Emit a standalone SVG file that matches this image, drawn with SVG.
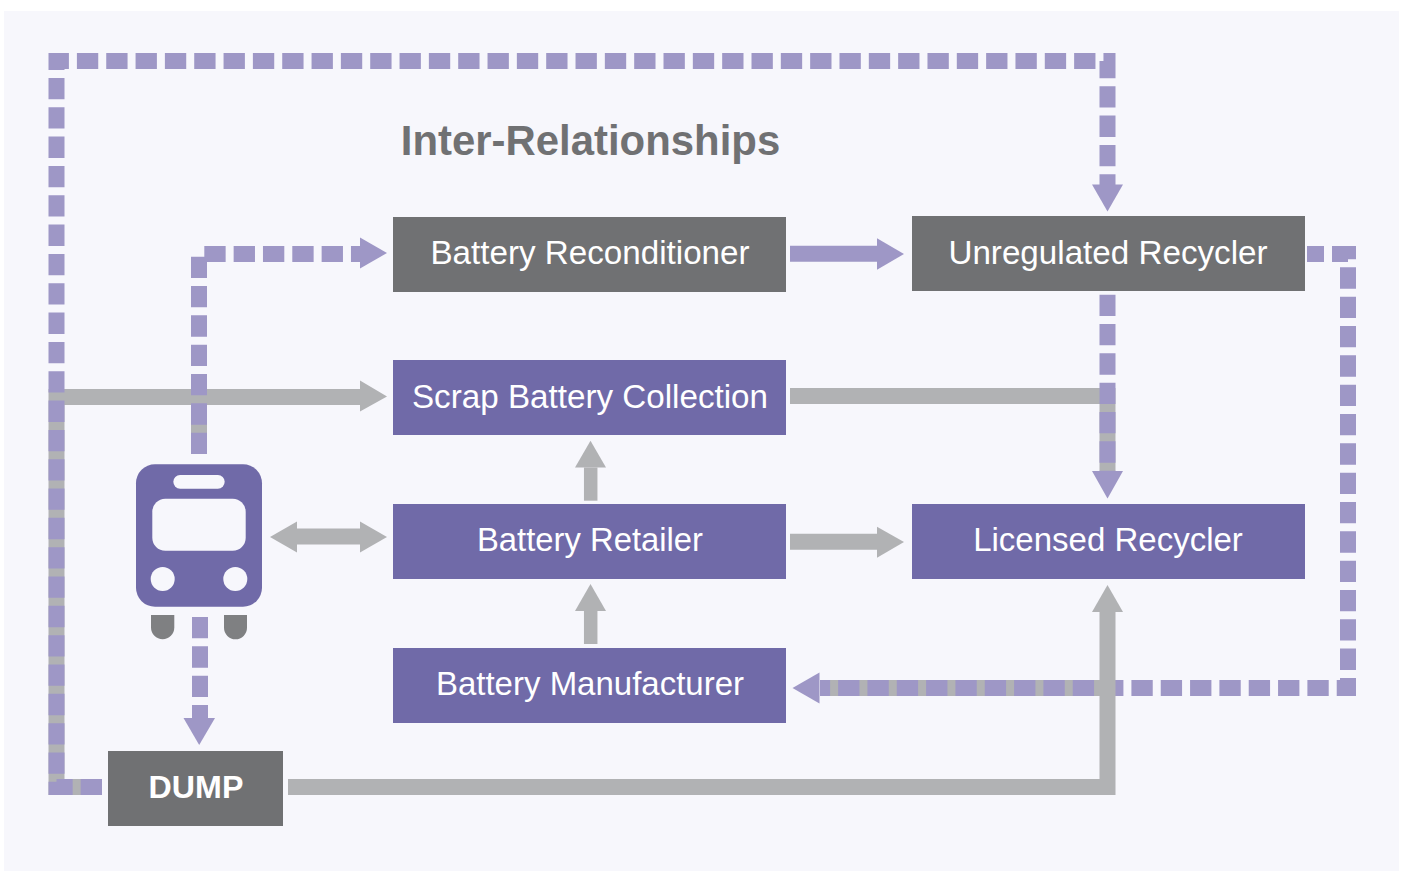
<svg xmlns="http://www.w3.org/2000/svg" width="1403" height="871" viewBox="0 0 1403 871">
<style>
.g{fill:none;stroke:#b1b2b4;stroke-width:16}
.s{fill:none;stroke:#b1b2b4;stroke-width:13.500}
.p{fill:none;stroke:#9e97c6;stroke-width:16}
.d{stroke-dasharray:21.33 8}
.hg{fill:#b1b2b4}.hp{fill:#9e97c6}
.n{fill:#706aa8}.k{fill:#707173}
text{font-family:"Liberation Sans",Arial,sans-serif;font-size:33.200px;fill:#fff;text-anchor:middle}
</style>
<rect width="1403" height="871" fill="#fff"/>
<rect x="4" y="11" width="1395" height="860" fill="#f7f7fc"/>
<text x="590.500" y="155" style="font-size:41.900px;font-weight:bold;fill:#707173">Inter-Relationships</text>
<g id="connectors">
<path class="g" d="M102 787H56.500V397H360"/>
<path class="g" d="M199 454V397"/>
<path class="g" d="M790 396H1107.500V471"/>
<path class="g" d="M1107.500 688H820"/>
<path class="p d" d="M102 787H56.500V61H1107.500V185"/>
<path class="p d" d="M199 454V254H360"/>
<path class="p d" d="M1107.500 294.700V471"/>
<path class="p d" stroke-dashoffset="4.330" d="M1307 254H1348V688H820"/>
<path class="p d" d="M200 617V718"/>
<path class="g" d="M288 787H1107.500V612"/>
<path class="p" d="M790 253.700H877"/>
<path class="g" d="M790 541.700H877"/>
<path class="s" d="M590.700 500.700V467.500"/>
<path class="s" d="M590.700 644V611"/>
<path class="g" d="M297 536.500H360"/>
<polygon class="hg" points="360,380.500 387,396.500 360,411.500"/>
<polygon class="hp" points="360,237.500 387,253 360,268.500"/>
<polygon class="hp" points="877,238.300 904,254 877,269.700"/>
<polygon class="hg" points="877,526.700 904,542 877,557.700"/>
<polygon class="hp" points="1092,184.500 1123,184.500 1107.500,211.500"/>
<polygon class="hp" points="1092,471 1123,471 1107.500,498.500"/>
<polygon class="hp" points="183.500,718 215,718 199.200,745"/>
<polygon class="hp" points="819.500,672.500 792.500,688 819.500,703.500"/>
<polygon class="hg" points="1092,612 1123,612 1107.500,585"/>
<polygon class="hg" points="575,467.500 606,467.500 590.500,440.700"/>
<polygon class="hg" points="575,611 606,611 590.500,584"/>
<polygon class="hg" points="360,521.500 387,537 360,552.500"/>
<polygon class="hg" points="297,521.500 270,537 297,552.500"/>
</g>
<g id="battery-reconditioner"><rect class="k" x="393" y="217" width="393" height="75"/><text x="590" y="264">Battery Reconditioner</text></g>
<g id="unregulated-recycler"><rect class="k" x="912" y="216" width="393" height="75"/><text x="1108" y="264">Unregulated Recycler</text></g>
<g id="scrap-battery-collection"><rect class="n" x="393" y="360" width="393" height="75"/><text x="590" y="408">Scrap Battery Collection</text></g>
<g id="battery-retailer"><rect class="n" x="393" y="504" width="393" height="75"/><text x="590" y="551" style="font-size:32.800px">Battery Retailer</text></g>
<g id="licensed-recycler"><rect class="n" x="912" y="504" width="393" height="75"/><text x="1108" y="551" style="font-size:33px">Licensed Recycler</text></g>
<g id="battery-manufacturer"><rect class="n" x="393" y="648" width="393" height="75"/><text x="590" y="695" style="font-size:33px">Battery Manufacturer</text></g>
<g id="dump"><rect class="k" x="108" y="751" width="175" height="75"/><text x="196" y="798" style="font-size:32.200px;font-weight:bold">DUMP</text></g>
<g id="bus">
<rect class="n" x="136" y="464.300" width="126" height="142.400" rx="19"/>
<rect x="173.300" y="475" width="51.400" height="13.700" rx="6.850" fill="#f7f7fc"/>
<rect x="152.300" y="498.700" width="93.400" height="52" rx="13" fill="#f7f7fc"/>
<circle cx="162.700" cy="579" r="12" fill="#f7f7fc"/>
<circle cx="235.300" cy="579" r="12" fill="#f7f7fc"/>
<path fill="#7f8082" d="M151 615H174.300V627.600A11.650 11.650 0 0 1 151 627.600Z"/>
<path fill="#7f8082" d="M224 615H247V627.800A11.500 11.500 0 0 1 224 627.800Z"/>
</g>
</svg>
